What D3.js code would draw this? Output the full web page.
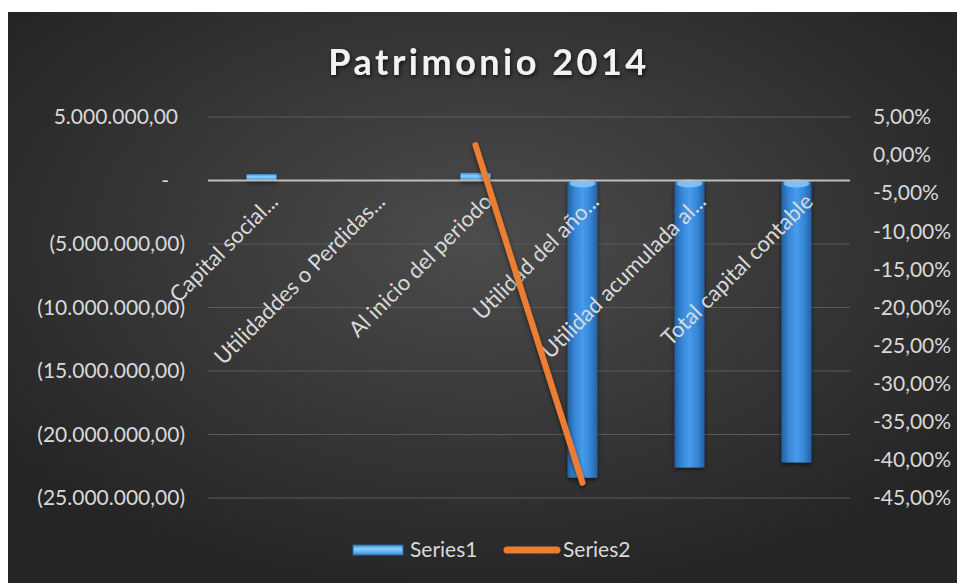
<!DOCTYPE html>
<html>
<head>
<meta charset="utf-8">
<script src="https://cdn.jsdelivr.net/npm/d3@7"></script>
<style>
body{margin:0;background:#fff;}
text{font-family:Lato, "Open Sans", sans-serif;}
</style>
</head>
<body>
<div id="chart"></div>
<script>
// data
var categories = ["Capital social...", "Utilidaddes o Perdidas...", "Al inicio del periodo",
                  "Utilidad del año...", "Utilidad acumulada al...", "Total capital contable"];
var series1 = [500000, null, 600000, -23400000, -22600000, -22200000];
var series2 = [null, null, 0.013, -0.43, null, null];
var leftTicks = [5000000, 0, -5000000, -10000000, -15000000, -20000000, -25000000];
var rightTicks = [0.05, 0, -0.05, -0.10, -0.15, -0.20, -0.25, -0.30, -0.35, -0.40, -0.45];
var seriesNames = ["Series1", "Series2"];

var W = 957, H = 583;
var plotLeft = 208, plotRight = 850, plotTop = 117, plotBottom = 498;

var locale = d3.formatLocale({decimal: ",", thousands: ".", grouping: [3], currency: ["", ""], minus: "-"});
var numFmt = locale.format(",.2f");
var pctFmt = locale.format(".2%");

var svg = d3.select("#chart").append("svg").attr("width", W).attr("height", H);
var defs = svg.append("defs");

var bg = defs.append("radialGradient").attr("id", "bg").attr("cx", "50%").attr("cy", "40%").attr("r", "62%");
bg.append("stop").attr("offset", "0%").attr("stop-color", "#4c4c4c");
bg.append("stop").attr("offset", "100%").attr("stop-color", "#252525");

var barGrad = defs.append("linearGradient").attr("id", "barGrad").attr("x1", "0%").attr("x2", "100%");
[["0%", "#2360a3"], ["25%", "#3787d8"], ["50%", "#469bea"], ["75%", "#3787d8"], ["100%", "#2360a3"]]
  .forEach(function(s){ barGrad.append("stop").attr("offset", s[0]).attr("stop-color", s[1]); });

var posGrad = defs.append("linearGradient").attr("id", "posGrad").attr("x1", "0%").attr("x2", "0%").attr("y1", "0%").attr("y2", "100%");
[["0%", "#3d8fdc"], ["40%", "#8ad0fb"], ["100%", "#3a8cdc"]]
  .forEach(function(s){ posGrad.append("stop").attr("offset", s[0]).attr("stop-color", s[1]); });

var shadow = defs.append("filter").attr("id", "shadow").attr("x", "-30%").attr("y", "-30%").attr("width", "160%").attr("height", "160%");
shadow.append("feDropShadow").attr("dx", 0).attr("dy", 2).attr("stdDeviation", 2).attr("flood-color", "#000").attr("flood-opacity", 0.6);

var tshadow = defs.append("filter").attr("id", "tshadow").attr("x", "-10%").attr("y", "-30%").attr("width", "120%").attr("height", "160%");
tshadow.append("feDropShadow").attr("dx", 1).attr("dy", 2).attr("stdDeviation", 2).attr("flood-color", "#000").attr("flood-opacity", 0.7);

svg.append("rect").attr("x", 8).attr("y", 12).attr("width", W - 8).attr("height", H - 12).attr("fill", "url(#bg)");

// title
svg.append("text").attr("x", 489).attr("y", 75).attr("text-anchor", "middle")
  .attr("font-size", 36).attr("font-weight", "bold").attr("letter-spacing", "3.5px")
  .attr("fill", "#f2f2f2").attr("filter", "url(#tshadow)").text("Patrimonio 2014");

var x = d3.scaleBand().domain(categories).range([plotLeft, plotRight]).paddingInner(0.72).paddingOuter(0.36);
var yL = d3.scaleLinear().domain([-25000000, 5000000]).range([plotBottom, plotTop]);
var yR = d3.scaleLinear().domain([-0.45, 0.05]).range([plotBottom, plotTop]);

// gridlines
svg.append("g").selectAll("line").data(leftTicks.filter(function(d){ return d !== 0; })).enter()
  .append("line").attr("x1", plotLeft).attr("x2", plotRight)
  .attr("y1", function(d){ return yL(d); }).attr("y2", function(d){ return yL(d); })
  .attr("stroke", "#5a5a5a").attr("stroke-width", 1);

// left axis
var axL = svg.append("g").attr("transform", "translate(" + plotLeft + ",0)")
  .call(d3.axisLeft(yL).tickValues(leftTicks).tickSize(0).tickPadding(23)
    .tickFormat(function(d){ return d < 0 ? "(" + numFmt(-d) + ")" : d === 0 ? "-" : numFmt(d); }));
axL.select(".domain").remove();
axL.selectAll("text").attr("font-size", 21).attr("fill", "#d9d9d9")
  .attr("dx", function(d){ return d > 0 ? -7 : d === 0 ? -16 : 0; });

// right axis
var axR = svg.append("g").attr("transform", "translate(" + plotRight + ",0)")
  .call(d3.axisRight(yR).tickValues(rightTicks).tickSize(0).tickPadding(23).tickFormat(pctFmt));
axR.select(".domain").remove();
axR.selectAll("text").attr("font-size", 21).attr("fill", "#d9d9d9");

// bars
var barData = categories.map(function(c, i){ return {cat: c, v: series1[i]}; })
  .filter(function(d){ return d.v !== null; });
var bars = svg.append("g").attr("filter", "url(#shadow)");
bars.selectAll("rect").data(barData).enter().append("rect")
  .attr("x", function(d){ return x(d.cat); })
  .attr("width", x.bandwidth())
  .attr("y", function(d){ return Math.min(yL(d.v), yL(0)); })
  .attr("height", function(d){ return Math.abs(yL(d.v) - yL(0)); })
  .attr("fill", function(d){ return d.v > 0 ? "url(#posGrad)" : "url(#barGrad)"; });
// light cap where the negative bars meet zero
bars.selectAll("ellipse").data(barData.filter(function(d){ return d.v < 0; })).enter().append("ellipse")
  .attr("cx", function(d){ return x(d.cat) + x.bandwidth() / 2; })
  .attr("cy", yL(0) + 3).attr("rx", x.bandwidth() / 2 - 2).attr("ry", 4)
  .attr("fill", "#86c9f7").attr("opacity", 0.85);

// zero line
svg.append("line").attr("x1", plotLeft).attr("x2", plotRight).attr("y1", yL(0)).attr("y2", yL(0))
  .attr("stroke", "#bdbdbd").attr("stroke-width", 2);

// category labels
svg.append("g").selectAll("text").data(categories).enter().append("text")
  .attr("transform", function(d){ return "translate(" + (x(d) + x.bandwidth() / 2 + 18) + ",203) rotate(-45)"; })
  .attr("text-anchor", "end").attr("font-size", 22).attr("fill", "#d9d9d9").text(function(d){ return d; });

// line series
var lineData = categories.map(function(c, i){ return {cat: c, v: series2[i]}; });
svg.append("path").datum(lineData)
  .attr("d", d3.line().defined(function(d){ return d.v !== null; })
    .x(function(d){ return x(d.cat) + x.bandwidth() / 2; }).y(function(d){ return yR(d.v); }))
  .attr("fill", "none").attr("stroke", "#ed7d31").attr("stroke-width", 6)
  .attr("stroke-linecap", "round").attr("filter", "url(#shadow)");

// legend
var leg = svg.append("g").attr("transform", "translate(0,550)");
leg.append("rect").attr("x", 353).attr("y", -5).attr("width", 50).attr("height", 10)
  .attr("fill", "url(#posGrad)").attr("stroke", "#2563a6").attr("stroke-width", 1);
leg.append("text").attr("x", 410).attr("y", 7).attr("font-size", 21).attr("fill", "#d9d9d9").text(seriesNames[0]);
leg.append("line").attr("x1", 507).attr("x2", 557).attr("y1", 0).attr("y2", 0)
  .attr("stroke", "#ed7d31").attr("stroke-width", 7).attr("stroke-linecap", "round");
leg.append("text").attr("x", 563).attr("y", 7).attr("font-size", 21).attr("fill", "#d9d9d9").text(seriesNames[1]);
</script>
</body>
</html>
